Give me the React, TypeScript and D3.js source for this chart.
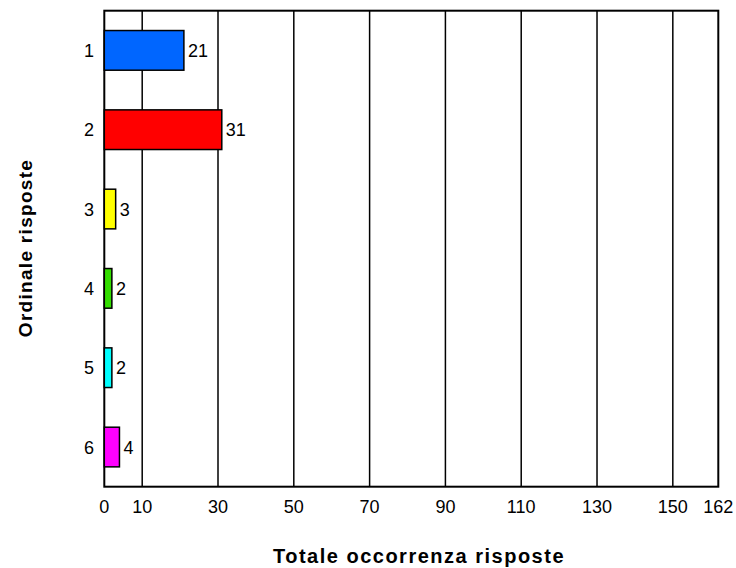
import React from "react";
import * as d3 from "d3";

const categories = ["1", "2", "3", "4", "5", "6"];
const values = [21, 31, 3, 2, 2, 4];
const colors = ["#0066FF", "#FF0000", "#FFFF00", "#33DD00", "#00FFFF", "#FF00FF"];
const tickValues = [0, 10, 30, 50, 70, 90, 110, 130, 150, 162];
const xTitle = "Totale occorrenza risposte";
const yTitle = "Ordinale risposte";

export default function App() {
  const W = 736, H = 568;
  const left = 104.3, right = 718.3, top = 10.7, bottom = 486.7;
  const x = d3.scaleLinear().domain([0, 162]).range([left, right]);
  const y = d3.scaleBand().domain(categories).range([top, bottom]).paddingInner(0.5).paddingOuter(0.25);
  const font = "Arial, 'Liberation Sans', sans-serif";
  return (
    <svg width={W} height={H} style={{ position: "absolute", left: 0, top: 0 }} fontFamily={font}>
      <rect x={0} y={0} width={W} height={H} fill="#fff" />
      {tickValues.filter(t => t > 0 && t < 162).map(t => (
        <line key={t} x1={x(t)} x2={x(t)} y1={top} y2={bottom} stroke="#000" strokeWidth={1.5} />
      ))}
      <rect x={left} y={top} width={right - left} height={bottom - top} fill="none" stroke="#000" strokeWidth={2} />
      {categories.map((c, i) => (
        <g key={c}>
          <rect x={x(0)} y={y(c)!} width={x(values[i]) - x(0)} height={y.bandwidth()} fill={colors[i]} stroke="#000" strokeWidth={1.5} />
          <text x={x(values[i]) + 4} y={y(c)! + y.bandwidth() / 2} dy="0.36em" fontSize={18}>{values[i]}</text>
          <text x={94} y={y(c)! + y.bandwidth() / 2} dy="0.36em" fontSize={18} textAnchor="end">{c}</text>
        </g>
      ))}
      {tickValues.map(t => (
        <text key={t} x={x(t)} y={513} fontSize={18} textAnchor="middle">{t}</text>
      ))}
      <text x={419} y={563} fontSize={20} fontWeight="bold" textAnchor="middle" letterSpacing={1.5}>{xTitle}</text>
      <text transform={`translate(32,248) rotate(-90)`} fontSize={19} fontWeight="bold" textAnchor="middle" letterSpacing={1.3}>{yTitle}</text>
    </svg>
  );
}
